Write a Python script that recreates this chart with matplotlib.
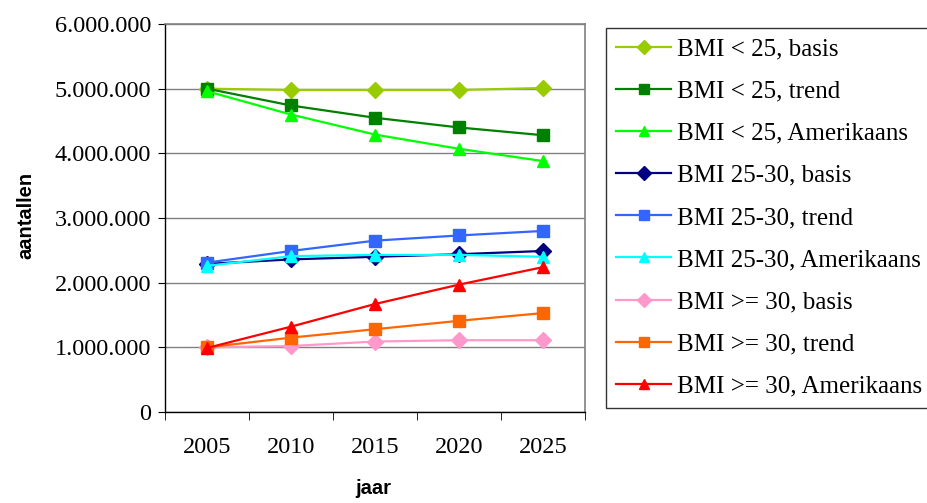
import matplotlib.pyplot as plt
from matplotlib.ticker import FuncFormatter, FixedLocator

# Projected counts per BMI class and scenario
years = ["2005", "2010", "2015", "2020", "2025"]

bmi_lt25_basis = [5.00e6, 4.98e6, 4.98e6, 4.98e6, 5.01e6]
bmi_lt25_trend = [5.00e6, 4.74e6, 4.55e6, 4.40e6, 4.28e6]
bmi_lt25_amerikaans = [4.96e6, 4.60e6, 4.29e6, 4.07e6, 3.88e6]
bmi_25_30_basis = [2.29e6, 2.36e6, 2.40e6, 2.44e6, 2.49e6]
bmi_25_30_trend = [2.31e6, 2.49e6, 2.65e6, 2.73e6, 2.80e6]
bmi_25_30_amerikaans = [2.26e6, 2.41e6, 2.43e6, 2.43e6, 2.40e6]
bmi_ge30_basis = [1.00e6, 1.02e6, 1.09e6, 1.11e6, 1.11e6]
bmi_ge30_trend = [1.00e6, 1.15e6, 1.28e6, 1.41e6, 1.53e6]
bmi_ge30_amerikaans = [0.99e6, 1.32e6, 1.67e6, 1.97e6, 2.24e6]

SERIES = [
    ("BMI < 25, basis", bmi_lt25_basis, "D", "#99CC00"),
    ("BMI < 25, trend", bmi_lt25_trend, "s", "#008000"),
    ("BMI < 25, Amerikaans", bmi_lt25_amerikaans, "^", "#00FF00"),
    ("BMI 25-30, basis", bmi_25_30_basis, "D", "#000080"),
    ("BMI 25-30, trend", bmi_25_30_trend, "s", "#3366FF"),
    ("BMI 25-30, Amerikaans", bmi_25_30_amerikaans, "^", "#00FFFF"),
    ("BMI >= 30, basis", bmi_ge30_basis, "D", "#FF99CC"),
    ("BMI >= 30, trend", bmi_ge30_trend, "s", "#FF6600"),
    ("BMI >= 30, Amerikaans", bmi_ge30_amerikaans, "^", "#FF0000"),
]

serif = ["Liberation Serif", "DejaVu Serif"]
sans = ["Liberation Sans", "DejaVu Sans"]

fig = plt.figure(figsize=(9.28, 5.03), dpi=100)
ax = fig.add_axes([165 / 928, 1 - 412 / 503, 420 / 928, 388 / 503])

x = list(range(len(years)))
for label, vals, marker, color in SERIES:
    ms = 8.5 if marker == "D" else 8
    ax.plot(x, vals, marker=marker, color=color, label=label, lw=1.6,
            ms=ms, mec=color, mfc=color)

ax.set_xlim(-0.5, len(years) - 0.5)
ax.set_ylim(0, 6e6)
ax.set_yticks([i * 1e6 for i in range(7)])
ax.yaxis.set_major_formatter(
    FuncFormatter(lambda v, _: f"{int(v):,}".replace(",", ".")))
ax.set_xticks(x)
ax.set_xticklabels(years)
ax.xaxis.set_minor_locator(FixedLocator([i + 0.5 for i in range(-1, len(years))]))
ax.tick_params(axis="x", which="major", length=0, pad=18)
ax.tick_params(axis="x", which="minor", length=6, direction="out", color="black")
ax.tick_params(axis="y", length=5, direction="out", pad=5)
for lab in ax.get_xticklabels() + ax.get_yticklabels():
    lab.set_family(serif)
    lab.set_fontsize(17.5)

ax.grid(axis="y", color="#808080", lw=1)
ax.set_axisbelow(True)
for side in ("top", "right"):
    ax.spines[side].set_color("#808080")
    ax.spines[side].set_linewidth(1.2)
for side in ("left", "bottom"):
    ax.spines[side].set_color("black")
    ax.spines[side].set_linewidth(1)

fig.text(26 / 928, 1 - 215 / 503, "aantallen", rotation=90, ha="center",
         va="center", family=sans, fontweight="bold", fontsize=14.5)
fig.text(373 / 928, 1 - 489 / 503, "jaar", ha="center", va="center",
         family=sans, fontweight="bold", fontsize=14.5)

leg = fig.legend(loc="upper left", bbox_to_anchor=(606 / 928, 1 - 28 / 503),
                 prop={"family": serif, "size": 18}, frameon=True,
                 fancybox=False, edgecolor="black", handlelength=2.2,
                 handletextpad=0.25, labelspacing=0.785, borderpad=0.4,
                 borderaxespad=0, markerscale=0.85)
leg.get_frame().set_linewidth(1)

fig.savefig("out.png", dpi=100)
